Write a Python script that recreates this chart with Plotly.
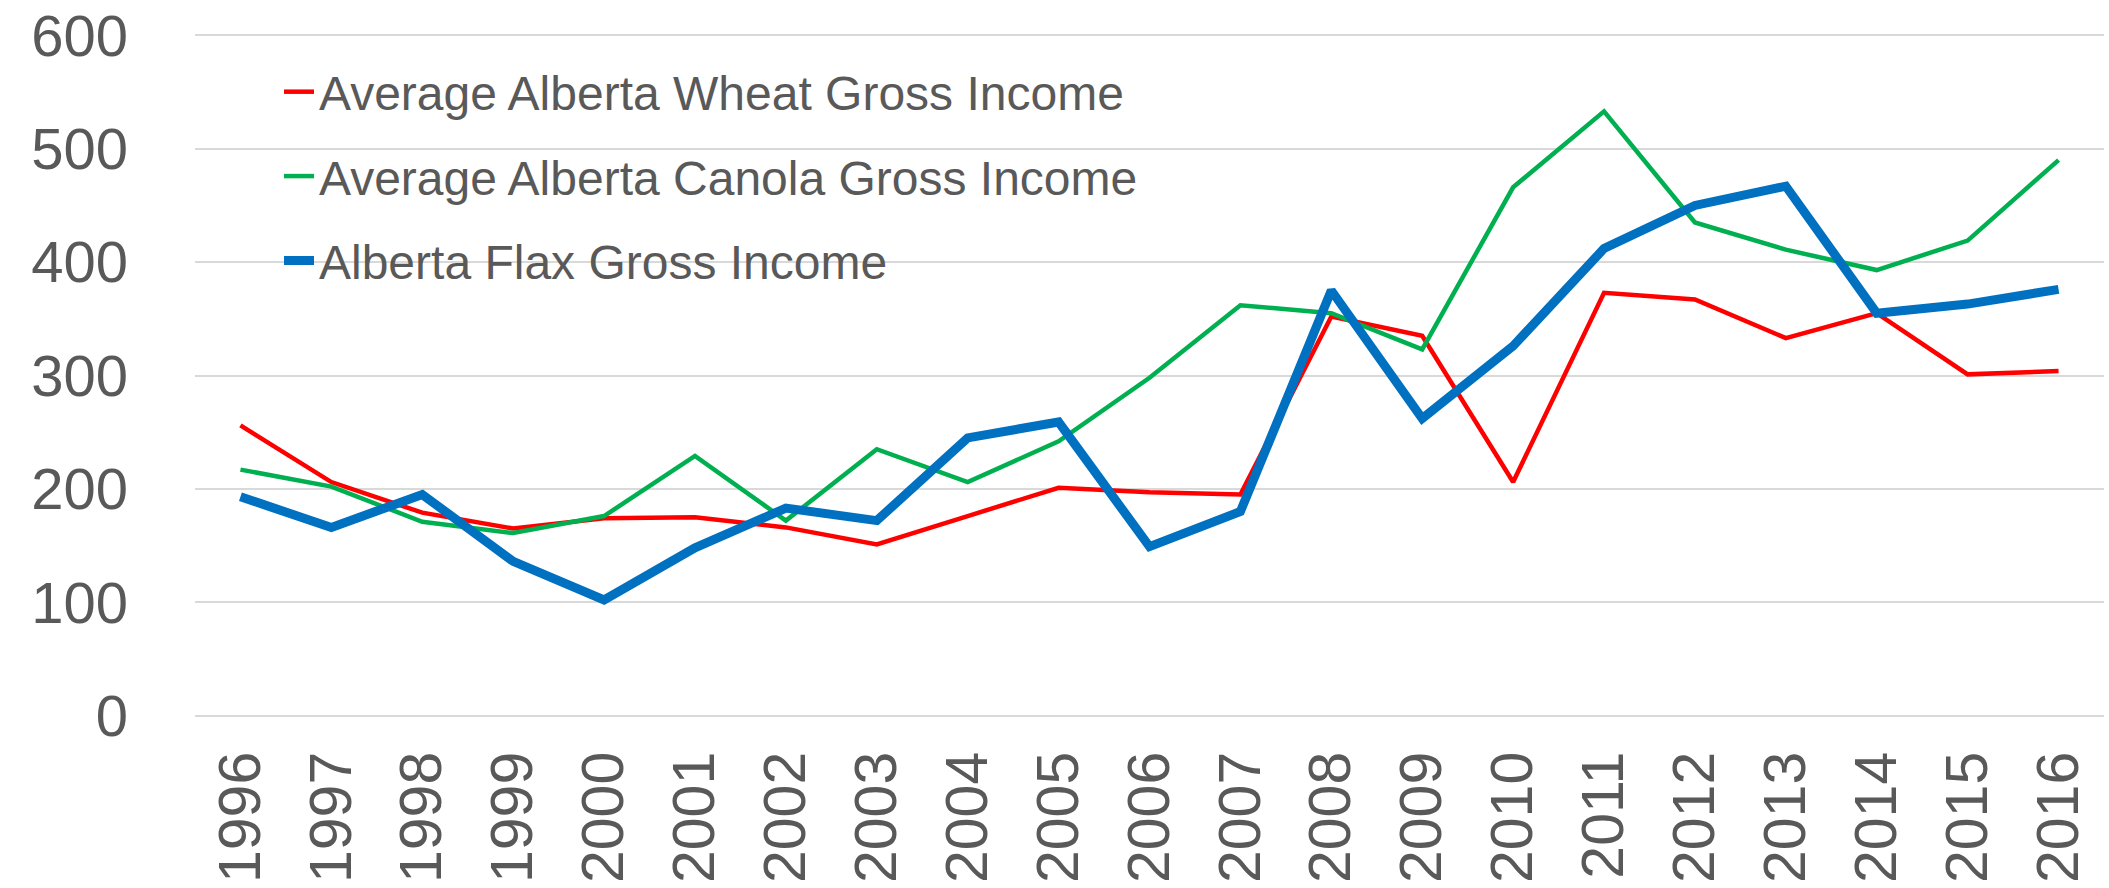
import plotly.graph_objects as go

years = [str(y) for y in range(1996, 2017)]
wheat = [256, 206, 179, 165, 174, 175, 166, 151, 176, 201, 197, 195, 352, 335, 206, 373, 367, 333, 355, 301, 304]
canola = [217, 202, 171, 161, 176, 229, 172, 235, 206, 242, 298, 362, 355, 323, 466, 533, 435, 411, 393, 419, 490]
flax = [193, 166, 195, 136, 102, 148, 183, 172, 245, 259, 149, 180, 375, 262, 326, 412, 450, 467, 355, 363, 376]

names = ["Average Alberta Wheat Gross Income", "Average Alberta Canola Gross Income", "Alberta Flax Gross Income"]
colors = ["#FF0000", "#00B050", "#0070C0"]
widths = [4.5, 4.5, 9]
series = [wheat, canola, flax]

FONT = "Liberation Sans"
GREY = "#595959"

fig = go.Figure()
for i, (n, c, w, s) in enumerate(zip(names, colors, widths, series)):
    fig.add_trace(go.Scatter(x=years, y=s, name=n, mode="lines",
                             line=dict(color=c, width=w), legendgroup=f"g{i}"))

fig.update_layout(
    width=2109, height=888,
    margin=dict(l=195, r=5, t=32, b=169),
    paper_bgcolor="white", plot_bgcolor="white",
    showlegend=True,
    legend=dict(x=0.044, y=0.968, xanchor="left", yanchor="top",
                font=dict(family=FONT, size=48, color=GREY),
                bgcolor="rgba(0,0,0,0)", tracegroupgap=19, traceorder="grouped"),
    xaxis=dict(type="category", range=[-0.5, 20.5], tickangle=-90, showgrid=False, showline=False,
               tickfont=dict(family=FONT, size=59, color=GREY), ticks="",
               ticklabelstandoff=20, automargin=False),
    yaxis=dict(range=[-3, 603], tickvals=[0, 100, 200, 300, 400, 500, 600], showgrid=True,
               gridcolor="#D9D9D9", gridwidth=2, automargin=False,
               zeroline=False, showline=False, ticks="", ticklabeloverflow="allow",
               tickfont=dict(family=FONT, size=58, color=GREY), ticklabelstandoff=66),
)

fig.write_html("out.html", config={"displayModeBar": False},
               post_script="document.body.style.margin='0';")
